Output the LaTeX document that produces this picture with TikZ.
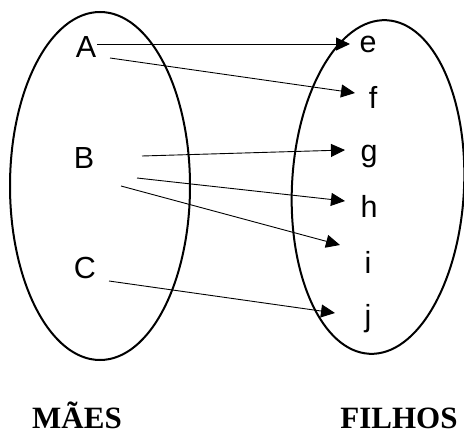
\documentclass[tikz,border=0pt]{standalone}
\usepackage{fontspec}
\setmainfont{Liberation Sans}
\newfontfamily\tnr{Liberation Serif}
\usetikzlibrary{arrows.meta,calc}
\tikzset{
  lbl/.style={anchor=base,inner sep=0pt,font=\fontsize{30.5}{30.5}\selectfont},
  ttl/.style={anchor=base,inner sep=0pt,font=\tnr\bfseries\fontsize{31}{31}\selectfont},
  setline/.style={line width=2pt},
  arr/.style={line width=0.9pt,-{Triangle[length=14pt,width=13pt]}}
}
\begin{document}
\begin{tikzpicture}[x=1pt,y=-1pt]
\useasboundingbox (0,0) rectangle (464,434);
\draw[setline] (100,186) ellipse [x radius=90, y radius=174];
\draw[setline,rotate around={-3:(378,187)}] (378,187) ellipse [x radius=86, y radius=167];
\node[lbl] (A) at (86,57) {A};
\node[lbl] (B) at (84,168) {B};
\node[lbl] (C) at (85,278) {C};
\node[lbl] (e) at (368,52) {e};
\node[lbl] (f) at (373,108) {f};
\node[lbl] (g) at (369,161) {g};
\node[lbl] (h) at (369,217) {h};
\node[lbl] (i) at (368,273) {i};
\node[lbl] (j) at (368,326) {j};
\node[ttl] (maes) at (77,428) {MÃES};
\node[ttl] (filhos) at (399,428) {FILHOS};
\draw[arr] ($(A.base)+(11,-13)$) -- ($(e.base)+(-18,-8)$);
\draw[arr] ($(A.base)+(24,1)$) -- ($(f.base)+(-18,-15)$);
\draw[arr] ($(B.base)+(58,-12)$) -- ($(g.base)+(-24,-11)$);
\draw[arr] ($(B.base)+(53,10)$) -- ($(h.base)+(-24,-16)$);
\draw[arr] ($(B.base)+(37,18)$) -- ($(i.base)+(-28,-28)$);
\draw[arr] ($(C.base)+(24,3)$) -- ($(j.base)+(-33,-13)$);
\end{tikzpicture}
\end{document}
